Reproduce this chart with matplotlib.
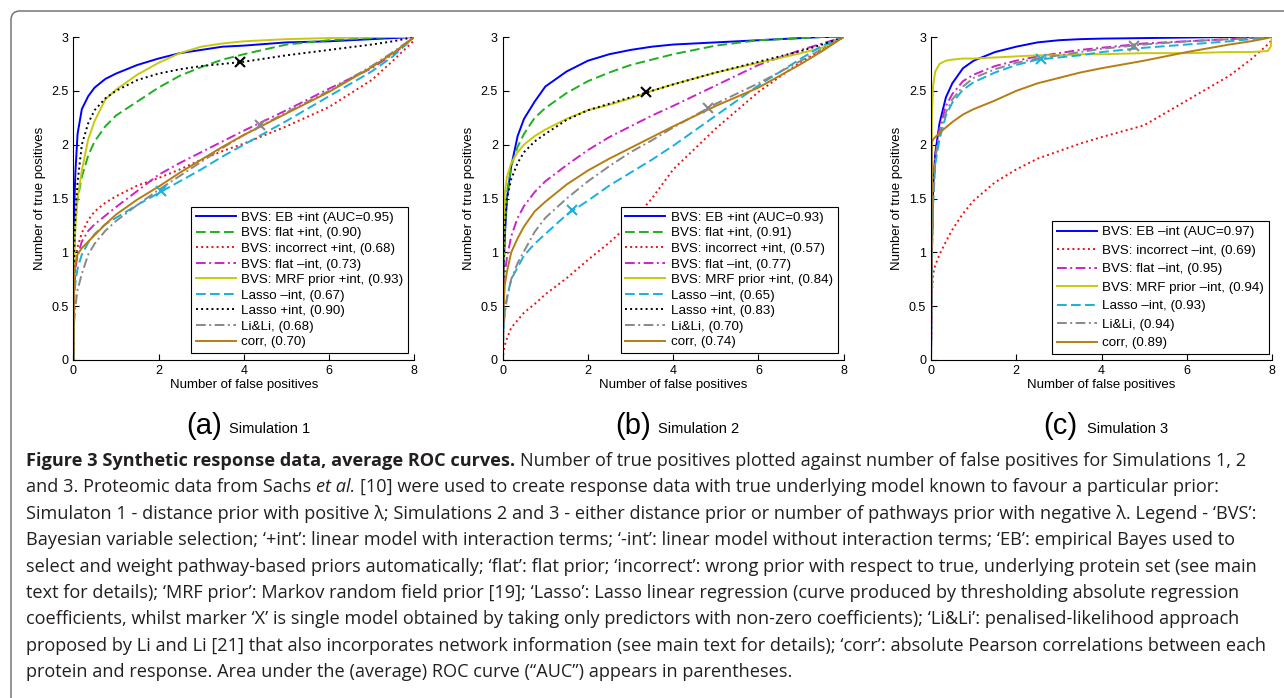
import matplotlib
matplotlib.use('Agg')
import matplotlib.pyplot as plt
from matplotlib.patches import FancyBboxPatch
from matplotlib.transforms import IdentityTransform
from matplotlib.ticker import FormatStrFormatter

# ---- data ----
a_fp = [0, 0.02, 0.05, 0.1, 0.2, 0.35, 0.5, 0.75, 1, 1.5, 2, 2.5, 3, 3.5, 4, 5, 6, 7, 7.5, 8]
a_eb = [0, 1.4, 1.75, 2.1, 2.33, 2.45, 2.53, 2.61, 2.66, 2.74, 2.80, 2.85, 2.88, 2.91, 2.92, 2.95, 2.96, 2.98, 2.99, 3]
a_flat_int = [0, 1.0, 1.3, 1.5, 1.7, 1.9, 2.03, 2.17, 2.27, 2.40, 2.53, 2.64, 2.72, 2.79, 2.84, 2.93, 2.97, 2.99, 3.0, 3]
a_incorrect = [0, 0.7, 0.9, 1.05, 1.18, 1.3, 1.38, 1.46, 1.52, 1.62, 1.69, 1.77, 1.86, 1.94, 2.01, 2.17, 2.35, 2.6, 2.78, 2.97]
a_flat_noint = [0, 0.6, 0.85, 0.97, 1.1, 1.2, 1.26, 1.34, 1.42, 1.57, 1.72, 1.83, 1.93, 2.03, 2.13, 2.32, 2.52, 2.71, 2.84, 3]
a_mrf = [0, 0.9, 1.25, 1.5, 1.76, 2.05, 2.22, 2.42, 2.51, 2.65, 2.76, 2.85, 2.91, 2.94, 2.96, 2.98, 2.99, 3.0, 3.0, 3]
a_lasso_noint = [0, 0.55, 0.72, 0.85, 0.98, 1.09, 1.17, 1.26, 1.32, 1.44, 1.55, 1.66, 1.77, 1.89, 2.0, 2.22, 2.45, 2.68, 2.82, 3]
a_lasso_int = [0, 1.0, 1.35, 1.65, 2.0, 2.2, 2.32, 2.43, 2.5, 2.6, 2.66, 2.7, 2.73, 2.75, 2.77, 2.83, 2.88, 2.93, 2.96, 3]
a_lili = [0, 0.35, 0.5, 0.65, 0.8, 0.98, 1.08, 1.2, 1.29, 1.44, 1.58, 1.71, 1.84, 1.97, 2.09, 2.3, 2.5, 2.73, 2.86, 3]
a_corr = [0, 0.75, 0.9, 0.98, 1.04, 1.1, 1.16, 1.26, 1.35, 1.49, 1.61, 1.74, 1.86, 1.98, 2.09, 2.29, 2.49, 2.72, 2.85, 3]
a_auc = ['0.95', '0.90', '0.68', '0.73', '0.93', '0.67', '0.90', '0.68', '0.70']
a_mark_keys = ['lasso_int', 'lasso_noint', 'lili']
a_mark_fp = [3.92, 2.05, 4.38]
a_mark_tp = [2.77, 1.57, 2.18]

b_fp = [0, 0.02, 0.05, 0.1, 0.2, 0.35, 0.5, 0.75, 1, 1.5, 2, 2.5, 3, 3.5, 4, 5, 6, 7, 7.5, 8]
b_eb = [0, 0.8, 1.15, 1.5, 1.8, 2.08, 2.24, 2.4, 2.54, 2.68, 2.78, 2.84, 2.88, 2.91, 2.93, 2.95, 2.97, 2.99, 3.0, 3]
b_flat_int = [0, 0.8, 1.2, 1.55, 1.8, 1.98, 2.1, 2.25, 2.34, 2.48, 2.59, 2.67, 2.74, 2.79, 2.84, 2.92, 2.97, 2.99, 3.0, 3]
b_incorrect = [0, 0.08, 0.14, 0.2, 0.3, 0.37, 0.44, 0.52, 0.61, 0.76, 0.93, 1.09, 1.27, 1.5, 1.77, 2.15, 2.49, 2.77, 2.88, 3]
b_flat_noint = [0, 0.6, 0.8, 0.95, 1.15, 1.32, 1.43, 1.56, 1.66, 1.81, 1.95, 2.07, 2.17, 2.27, 2.36, 2.55, 2.74, 2.88, 2.94, 3]
b_mrf = [0, 1.2, 1.55, 1.7, 1.83, 1.93, 2.0, 2.08, 2.14, 2.24, 2.32, 2.37, 2.43, 2.5, 2.56, 2.67, 2.76, 2.85, 2.9, 3]
b_lasso_noint = [0, 0.3, 0.45, 0.58, 0.75, 0.86, 0.97, 1.08, 1.17, 1.35, 1.48, 1.62, 1.74, 1.86, 1.99, 2.27, 2.55, 2.8, 2.92, 3]
b_lasso_int = [0, 0.9, 1.25, 1.5, 1.68, 1.83, 1.93, 2.03, 2.1, 2.23, 2.32, 2.38, 2.44, 2.5, 2.56, 2.67, 2.77, 2.87, 2.93, 3]
b_lili = [0, 0.3, 0.45, 0.57, 0.75, 0.9, 1.01, 1.19, 1.32, 1.5, 1.66, 1.8, 1.93, 2.04, 2.16, 2.38, 2.57, 2.78, 2.89, 3]
b_corr = [0, 0.5, 0.7, 0.82, 1.0, 1.13, 1.24, 1.38, 1.47, 1.63, 1.76, 1.87, 1.97, 2.07, 2.17, 2.36, 2.53, 2.75, 2.87, 3]
b_auc = ['0.93', '0.91', '0.57', '0.77', '0.84', '0.65', '0.83', '0.70', '0.74']
b_mark_keys = ['lasso_int', 'lasso_noint', 'lili']
b_mark_fp = [3.36, 1.63, 4.82]
b_mark_tp = [2.49, 1.39, 2.34]

c_fp = [0, 0.02, 0.05, 0.1, 0.2, 0.35, 0.5, 0.75, 1, 1.5, 2, 2.5, 3, 3.5, 4, 5, 6, 7, 7.5, 7.9, 7.97, 8]
c_eb = [0, 1.0, 1.6, 1.92, 2.2, 2.44, 2.57, 2.71, 2.78, 2.86, 2.91, 2.95, 2.97, 2.98, 2.985, 2.99, 2.995, 3.0, 3.0, 3.0, 3.0, 3]
c_incorrect = [0, 0.62, 0.8, 0.88, 0.98, 1.1, 1.21, 1.36, 1.48, 1.65, 1.77, 1.87, 1.94, 2.01, 2.07, 2.18, 2.41, 2.64, 2.79, 2.93, 2.96, 2.98]
c_flat_noint = [0, 1.0, 1.5, 1.88, 2.15, 2.36, 2.47, 2.59, 2.65, 2.73, 2.78, 2.82, 2.85, 2.88, 2.9, 2.94, 2.96, 2.98, 2.99, 3.0, 3.0, 3]
c_mrf = [0, 2.25, 2.55, 2.68, 2.75, 2.78, 2.79, 2.8, 2.8, 2.81, 2.82, 2.83, 2.83, 2.84, 2.84, 2.85, 2.85, 2.86, 2.86, 2.87, 2.91, 3]
c_lasso_noint = [0, 0.95, 1.45, 1.82, 2.05, 2.27, 2.39, 2.51, 2.58, 2.67, 2.74, 2.79, 2.81, 2.83, 2.86, 2.9, 2.93, 2.96, 2.98, 2.995, 3.0, 3]
c_lili = [0, 1.0, 1.5, 1.87, 2.1, 2.3, 2.42, 2.54, 2.62, 2.7, 2.76, 2.8, 2.83, 2.86, 2.89, 2.93, 2.96, 2.98, 2.99, 3.0, 3.0, 3]
c_corr = [0, 2.02, 2.05, 2.07, 2.11, 2.16, 2.21, 2.28, 2.33, 2.41, 2.5, 2.57, 2.62, 2.67, 2.71, 2.78, 2.86, 2.93, 2.96, 2.99, 3.0, 3]
c_auc = ['0.97', '0.69', '0.95', '0.94', '0.93', '0.94', '0.89']
c_mark_keys = ['lasso_noint', 'lili']
c_mark_fp = [2.59, 4.77]
c_mark_tp = [2.80, 2.92]

W, H = 1284, 698
plt.rcParams['font.family'] = ['Liberation Sans', 'DejaVu Sans']
fig = plt.figure(figsize=(W / 100, H / 100), dpi=100)

DASH = (0, (5, 2.2))
DASHDOT = (0, (5, 1.8, 1, 1.8))
DOT = (0, (1, 1.65))
styles = {
    'eb': dict(color='#0000ff', ls='-'),
    'flat_int': dict(color='#1fb01f', ls=DASH),
    'incorrect': dict(color='#ee1111', ls=DOT),
    'flat_noint': dict(color='#cc22cc', ls=DASHDOT),
    'mrf': dict(color='#c9c90c', ls='-'),
    'lasso_noint': dict(color='#18b0e0', ls=DASH),
    'lasso_int': dict(color='#000000', ls=DOT),
    'lili': dict(color='#888888', ls=DASHDOT),
    'corr': dict(color='#b57d12', ls='-'),
}
M = '\u2013'


def panel(left, fp, curves, mk_keys, mk_fp, mk_tp, anchor, lspace):
    ax = fig.add_axes([left / W, 1 - 360 / H, 341 / W, 323 / H])
    for key, label, tp in curves:
        ax.plot(fp, tp, lw=1.4, label=label, **styles[key])
    for key, x, y in zip(mk_keys, mk_fp, mk_tp):
        ax.plot([x], [y], ls='none', marker='x', ms=7, mew=1.5,
                color=styles[key]['color'])
    ax.set_xlim(0, 8)
    ax.set_ylim(0, 3)
    ax.set_xticks([0, 2, 4, 6, 8])
    ax.set_yticks([0, 0.5, 1, 1.5, 2, 2.5, 3])
    ax.yaxis.set_major_formatter(FormatStrFormatter('%g'))
    for s in ['top', 'right']:
        ax.spines[s].set_visible(False)
    for s in ['left', 'bottom']:
        ax.spines[s].set_linewidth(0.8)
    ax.tick_params(direction='in', length=4, width=0.8, labelsize=9, pad=3.5)
    ax.set_xlabel('Number of false positives', fontsize=9.5, labelpad=1.5)
    ax.set_ylabel('Number of true positives', fontsize=9.5, labelpad=4)
    leg = ax.legend(loc='lower right', bbox_to_anchor=anchor, borderaxespad=0,
                    fontsize=9.6, handlelength=3.0, handletextpad=0.4,
                    labelspacing=lspace, borderpad=0.35, fancybox=False,
                    framealpha=1, edgecolor='black')
    leg.get_frame().set_linewidth(0.8)
    return ax


panel(73.3, a_fp, [
    ('eb', f'BVS: EB +int (AUC={a_auc[0]})', a_eb),
    ('flat_int', f'BVS: flat +int, ({a_auc[1]})', a_flat_int),
    ('incorrect', f'BVS: incorrect +int, ({a_auc[2]})', a_incorrect),
    ('flat_noint', f'BVS: flat {M}int, ({a_auc[3]})', a_flat_noint),
    ('mrf', f'BVS: MRF prior +int, ({a_auc[4]})', a_mrf),
    ('lasso_noint', f'Lasso {M}int, ({a_auc[5]})', a_lasso_noint),
    ('lasso_int', f'Lasso +int, ({a_auc[6]})', a_lasso_int),
    ('lili', f'Li&Li, ({a_auc[7]})', a_lili),
    ('corr', f'corr, ({a_auc[8]})', a_corr),
], a_mark_keys, a_mark_fp, a_mark_tp, (0.982, 0.022), 0.24)

panel(502.7, b_fp, [
    ('eb', f'BVS: EB +int (AUC={b_auc[0]})', b_eb),
    ('flat_int', f'BVS: flat +int, ({b_auc[1]})', b_flat_int),
    ('incorrect', f'BVS: incorrect +int, ({b_auc[2]})', b_incorrect),
    ('flat_noint', f'BVS: flat {M}int, ({b_auc[3]})', b_flat_noint),
    ('mrf', f'BVS: MRF prior +int, ({b_auc[4]})', b_mrf),
    ('lasso_noint', f'Lasso {M}int, ({b_auc[5]})', b_lasso_noint),
    ('lasso_int', f'Lasso +int, ({b_auc[6]})', b_lasso_int),
    ('lili', f'Li&Li, ({b_auc[7]})', b_lili),
    ('corr', f'corr, ({b_auc[8]})', b_corr),
], b_mark_keys, b_mark_fp, b_mark_tp, (0.982, 0.022), 0.24)

panel(931, c_fp, [
    ('eb', f'BVS: EB {M}int (AUC={c_auc[0]})', c_eb),
    ('incorrect', f'BVS: incorrect {M}int, ({c_auc[1]})', c_incorrect),
    ('flat_noint', f'BVS: flat {M}int, ({c_auc[2]})', c_flat_noint),
    ('mrf', f'BVS: MRF prior {M}int, ({c_auc[3]})', c_mrf),
    ('lasso_noint', f'Lasso {M}int, ({c_auc[4]})', c_lasso_noint),
    ('lili', f'Li&Li, ({c_auc[5]})', c_lili),
    ('corr', f'corr, ({c_auc[6]})', c_corr),
], c_mark_keys, c_mark_fp, c_mark_tp, (0.991, 0.019), 0.46)

# sub-panel captions
for x0, tag, name in [(186, '(a)', 'Simulation 1'), (615.4, '(b)', 'Simulation 2'),
                      (1043.7, '(c)', 'Simulation 3')]:
    fig.text(x0 / W, 1 - 434 / H, tag, fontsize=21, va='baseline')
    fig.text((x0 + 43) / W, 1 - 433 / H, name, fontsize=10.5, va='baseline')

# figure caption
cap_font = ['Open Sans', 'DejaVu Sans']
cap_color = '#231f20'
caption = [
    [("Figure 3 Synthetic response data, average ROC curves.", 'bold', 'normal'),
     ("Number of true positives plotted against number of false positives for Simulations 1, 2", 'normal', 'normal')],
    [("and 3. Proteomic data from Sachs", 'normal', 'normal'), ("et al.", 'normal', 'italic'),
     ("[10] were used to create response data with true underlying model known to favour a particular prior:", 'normal', 'normal')],
    [("Simulaton 1 - distance prior with positive \u03bb; Simulations 2 and 3 - either distance prior or number of pathways prior with negative \u03bb. Legend - \u2018BVS\u2019:", 'normal', 'normal')],
    [("Bayesian variable selection; \u2018+int\u2019: linear model with interaction terms; \u2018-int\u2019: linear model without interaction terms; \u2018EB\u2019: empirical Bayes used to", 'normal', 'normal')],
    [("select and weight pathway-based priors automatically; \u2018flat\u2019: flat prior; \u2018incorrect\u2019: wrong prior with respect to true, underlying protein set (see main", 'normal', 'normal')],
    [("text for details); \u2018MRF prior\u2019: Markov random field prior [19]; \u2018Lasso\u2019: Lasso linear regression (curve produced by thresholding absolute regression", 'normal', 'normal')],
    [("coefficients, whilst marker \u2018X\u2019 is single model obtained by taking only predictors with non-zero coefficients); \u2018Li&Li\u2019: penalised-likelihood approach", 'normal', 'normal')],
    [("proposed by Li and Li [21] that also incorporates network information (see main text for details); \u2018corr\u2019: absolute Pearson correlations between each", 'normal', 'normal')],
    [("protein and response. Area under the (average) ROC curve (\u201cAUC\u201d) appears in parentheses.", 'normal', 'normal')],
]

renderer = fig.canvas.get_renderer()


def width_of(s, size, weight='normal', style='normal'):
    t = fig.text(0, 0, s, fontsize=size, family=cap_font, weight=weight, style=style)
    w = t.get_window_extent(renderer).width
    t.remove()
    return w


def line_width(segs, size):
    w = 0
    for j, (s, wt, st) in enumerate(segs):
        if j > 0:
            w += width_of('x x', size, wt, st) - width_of('xx', size, wt, st)
        w += width_of(s, size, wt, st)
    return w


cap_x0 = 26
widest = max(line_width(segs, 10) for segs in caption)
cap_size = 10 * (1270 - cap_x0) / widest
for i, segs in enumerate(caption):
    y = 1 - (466 + 26.4 * i) / H
    x = cap_x0
    for j, (s, wt, st) in enumerate(segs):
        if j > 0:
            x += width_of('x x', cap_size, wt, st) - width_of('xx', cap_size, wt, st)
        fig.text(x / W, y, s, fontsize=cap_size, family=cap_font, weight=wt,
                 style=st, color=cap_color, va='baseline')
        x += width_of(s, cap_size, wt, st)

# rounded outer frame
frame = FancyBboxPatch((11, -20), W + 20, H - 11 + 20,
                       boxstyle='round,pad=0,rounding_size=9',
                       transform=IdentityTransform(), fill=False,
                       edgecolor='#777777', linewidth=1.1)
fig.add_artist(frame)

fig.savefig('out.png', dpi=100)
